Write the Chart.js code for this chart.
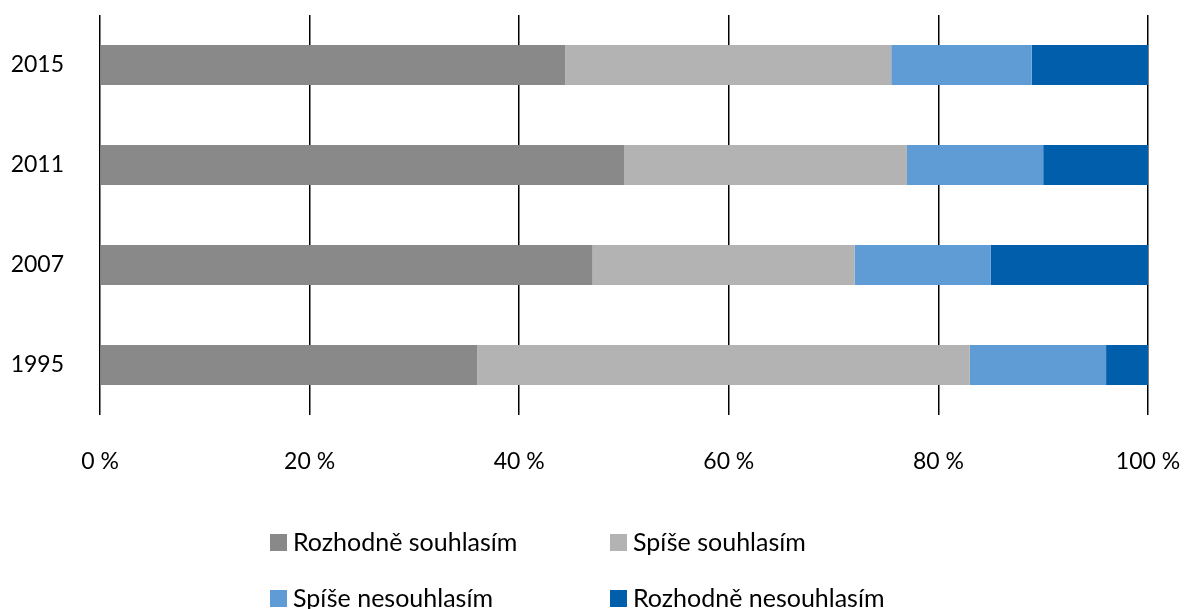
<!DOCTYPE html>
<html>
<head>
<meta charset="utf-8">
<script src="https://cdn.jsdelivr.net/npm/chart.js@4"></script>
<style>
  html, body { margin: 0; padding: 0; background: #fff; }
  #wrap { width: 1184px; height: 609px; }
</style>
</head>
<body>
<div id="wrap"><canvas id="barChart" width="1184" height="609"></canvas></div>
<script>
// Data
const years = ['2015', '2011', '2007', '1995'];
const rozhodneSouhlasim   = [44.4, 50, 47, 36];
const spiseSouhlasim      = [31.1, 27, 25, 47];
const spiseNesouhlasim    = [13.4, 13, 13, 13];
const rozhodneNesouhlasim = [11.1, 10, 15, 4];
const seriesNames  = ['Rozhodně souhlasím', 'Spíše souhlasím', 'Spíše nesouhlasím', 'Rozhodně nesouhlasím'];
const seriesColors = ['#898989', '#B3B3B3', '#5F9BD5', '#005EAB'];
const xTicks = [0, 20, 40, 60, 80, 100];

const fontFamily = 'Lato, "Open Sans", sans-serif';

// Legend in two columns (like the original)
const gridLegend = {
    id: 'gridLegend',
    afterDraw(chart) {
        const ctx = chart.ctx;
        const cols = [270, 610];
        const rows = [542, 598];
        ctx.save();
        ctx.font = '25px ' + fontFamily;
        ctx.textBaseline = 'middle';
        chart.data.datasets.forEach(function(ds, i) {
            const x = cols[i % 2];
            const y = rows[Math.floor(i / 2)];
            ctx.fillStyle = ds.backgroundColor;
            ctx.fillRect(x, y - 8, 17, 17);
            ctx.fillStyle = '#000';
            ctx.fillText(ds.label, x + 23, y + 1);
        });
        ctx.restore();
    }
};

const series = [rozhodneSouhlasim, spiseSouhlasim, spiseNesouhlasim, rozhodneNesouhlasim];

const ctx = document.getElementById('barChart').getContext('2d');
const barChart = new Chart(ctx, {
    type: 'bar',
    data: {
        labels: years,
        datasets: series.map(function(values, i) {
            return {
                label: seriesNames[i],
                data: values,
                backgroundColor: seriesColors[i],
                borderWidth: 0,
                categoryPercentage: 1,
                barPercentage: 0.4
            };
        })
    },
    options: {
        indexAxis: 'y',
        responsive: false,
        animation: false,
        layout: { padding: { top: 15, right: 36, bottom: 124, left: 0 } },
        plugins: {
            legend: { display: false },
            tooltip: { enabled: false }
        },
        scales: {
            x: {
                stacked: true,
                min: 0,
                max: 100,
                afterBuildTicks: function(scale) {
                    scale.ticks = xTicks.map(function(v) { return { value: v }; });
                },
                afterFit: function(scale) {
                    scale.height = 70;
                    scale.paddingLeft = 0;
                    scale.paddingRight = 0;
                },
                grid: { color: '#000', lineWidth: 1.5, drawTicks: false, z: -1 },
                border: { display: false },
                ticks: {
                    padding: 33,
                    color: '#000',
                    font: { family: fontFamily, size: 23 },
                    maxRotation: 0,
                    callback: function(v) { return v + ' %'; }
                }
            },
            y: {
                stacked: true,
                afterFit: function(scale) {
                    scale.width = 100;
                    scale.paddingTop = 0;
                    scale.paddingBottom = 0;
                },
                grid: { display: false, drawTicks: false },
                border: { display: false },
                ticks: {
                    padding: 36,
                    color: '#000',
                    font: { family: fontFamily, size: 23 }
                }
            }
        }
    },
    plugins: [gridLegend]
});
</script>
</body>
</html>
